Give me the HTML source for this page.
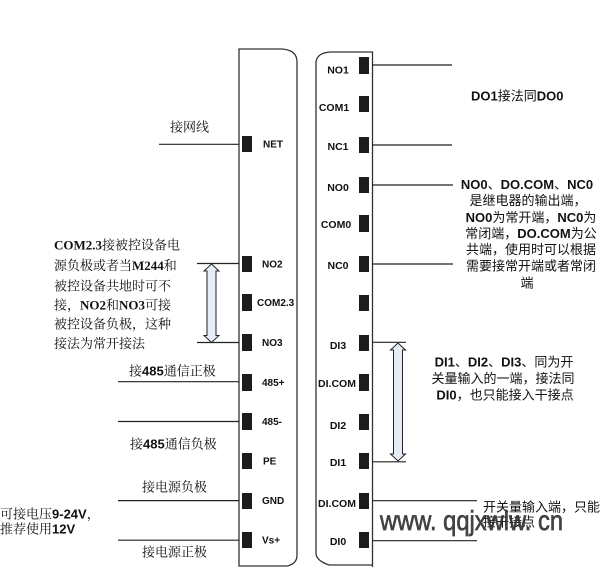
<!DOCTYPE html>
<html>
<head>
<meta charset="utf-8">
<style>
  html,body{margin:0;padding:0;background:#fff;}
  svg{display:block;}
  .pin{fill:#1c1c1c;}
  .ln{stroke:#222;stroke-width:1.2;fill:none;}
  .lbl{font-family:"Liberation Sans",sans-serif;font-weight:bold;font-size:10px;fill:#111;}
  .rl{font-family:"Liberation Sans",sans-serif;font-weight:bold;font-size:10.5px;fill:#111;}
  .cs{font-family:"Liberation Serif","Noto Serif CJK SC",serif;font-size:13px;fill:#111;}
  .cn{font-family:"Liberation Sans","Noto Serif CJK SC",serif;font-size:13px;fill:#111;}
  .cr{font-family:"Liberation Sans","Noto Sans CJK SC",sans-serif;font-size:13px;fill:#111;}
</style>
</head>
<body>
<svg width="605" height="567" viewBox="0 0 605 567" xmlns="http://www.w3.org/2000/svg">
  <!-- panels -->
  <path d="M239 49 H282 Q297 50 297 62 V555 Q297 564 287 566 H239 Z" fill="#fff" stroke="#333" stroke-width="1.3"/>
  <path d="M372.5 567 V52 H330 Q317 53 316 62 V554 Q317 561 329 565 H372.5" fill="#fff" stroke="#333" stroke-width="1.3"/>

  <!-- left pins -->
  <rect class="pin" x="242" y="136" width="10" height="16"/>
  <rect class="pin" x="242" y="256" width="10" height="16"/>
  <rect class="pin" x="242" y="294" width="10" height="17"/>
  <rect class="pin" x="242" y="334" width="10" height="17"/>
  <rect class="pin" x="242" y="374" width="10" height="17"/>
  <rect class="pin" x="242" y="413" width="10" height="17"/>
  <rect class="pin" x="242" y="453" width="10" height="16"/>
  <rect class="pin" x="242" y="493" width="10" height="16"/>
  <rect class="pin" x="242" y="532" width="10" height="16"/>

  <!-- right pins -->
  <rect class="pin" x="359" y="57" width="10" height="17"/>
  <rect class="pin" x="359" y="96" width="10" height="16"/>
  <rect class="pin" x="359" y="137" width="10" height="16"/>
  <rect class="pin" x="359" y="177" width="10" height="16"/>
  <rect class="pin" x="359" y="215" width="10" height="17"/>
  <rect class="pin" x="359" y="256" width="10" height="16"/>
  <rect class="pin" x="359" y="295" width="10" height="16"/>
  <rect class="pin" x="359" y="335" width="10" height="16"/>
  <rect class="pin" x="359" y="374" width="10" height="17"/>
  <rect class="pin" x="359" y="414" width="10" height="16"/>
  <rect class="pin" x="359" y="453" width="10" height="16"/>
  <rect class="pin" x="359" y="493" width="10" height="16"/>
  <rect class="pin" x="359" y="532" width="10" height="16"/>

  <!-- left labels -->
  <text class="lbl" x="263" y="147.5">NET</text>
  <text class="lbl" x="262" y="267.5">NO2</text>
  <text class="lbl" x="257" y="306">COM2.3</text>
  <text class="lbl" x="262" y="346">NO3</text>
  <text class="lbl" x="262" y="386">485+</text>
  <text class="lbl" x="262" y="425">485-</text>
  <text class="lbl" x="263" y="464.5">PE</text>
  <text class="lbl" x="262" y="504">GND</text>
  <text class="lbl" x="262" y="543.5">Vs+</text>

  <!-- right labels -->
  <g text-anchor="middle">
    <text class="rl" x="338" y="73.5">NO1</text>
    <text class="rl" x="334" y="111">COM1</text>
    <text class="rl" x="338" y="150">NC1</text>
    <text class="rl" x="338" y="191">NO0</text>
    <text class="rl" x="336" y="228">COM0</text>
    <text class="rl" x="338" y="269">NC0</text>
    <text class="rl" x="338" y="349">DI3</text>
    <text class="rl" x="337" y="387">DI.COM</text>
    <text class="rl" x="338" y="429">DI2</text>
    <text class="rl" x="338" y="466">DI1</text>
    <text class="rl" x="337" y="507">DI.COM</text>
    <text class="rl" x="338" y="545">DI0</text>
  </g>

  <!-- left lines -->
  <line class="ln" x1="159" y1="144.3" x2="239" y2="144.3"/>
  <line class="ln" x1="197" y1="263.5" x2="239" y2="263.5"/>
  <line class="ln" x1="197" y1="342.5" x2="239" y2="342.5"/>
  <line class="ln" x1="118" y1="381.7" x2="239" y2="381.7"/>
  <line class="ln" x1="118" y1="421.5" x2="239" y2="421.5"/>
  <line class="ln" x1="118" y1="500.6" x2="239" y2="500.6"/>
  <line class="ln" x1="118" y1="540.2" x2="239" y2="540.2"/>

  <!-- right lines -->
  <line class="ln" x1="372" y1="65" x2="452" y2="65"/>
  <line class="ln" x1="372" y1="145" x2="452" y2="145"/>
  <line class="ln" x1="372" y1="185" x2="453" y2="185"/>
  <line class="ln" x1="372" y1="264" x2="453" y2="264"/>
  <line class="ln" x1="372" y1="342.3" x2="406" y2="342.3"/>
  <line class="ln" x1="372" y1="461.8" x2="406" y2="461.8"/>
  <line class="ln" x1="372" y1="500.7" x2="477" y2="500.7"/>
  <line class="ln" x1="372" y1="540.7" x2="477" y2="540.7"/>

  <!-- double arrows -->
  <path d="M211.5 264 L219 271 L216 271 L216 335.5 L219 335.5 L211.5 342.5 L204 335.5 L207 335.5 L207 271 L204 271 Z" fill="#e6edf8" stroke="#222" stroke-width="1"/>
  <path d="M398 343 L405.5 350 L402.5 350 L402.5 454 L405.5 454 L398 461 L390.5 454 L393.5 454 L393.5 350 L390.5 350 Z" fill="#e6edf8" stroke="#222" stroke-width="1"/>

  <!-- left texts -->
  <text class="cs" x="170" y="131.5">接网线</text>
  <text class="cs" x="54" y="249.5"><tspan font-weight="bold">COM2.3</tspan>接被控设备电</text>
  <text class="cs" x="54" y="270">源负极或者当<tspan font-weight="bold">M244</tspan>和</text>
  <text class="cs" x="54" y="290.5">被控设备共地时可不</text>
  <text class="cs" x="54" y="309.5">接，<tspan font-weight="bold">NO2</tspan>和<tspan font-weight="bold">NO3</tspan>可接</text>
  <text class="cs" x="54" y="328.5">被控设备负极，这种</text>
  <text class="cs" x="54" y="348">接法为常开接法</text>

  <text class="cn" x="129" y="375.5">接<tspan font-weight="bold">485</tspan>通信正极</text>
  <text class="cn" x="130" y="448.5">接<tspan font-weight="bold">485</tspan>通信负极</text>
  <text class="cn" x="142" y="491.5">接电源负极</text>
  <text class="cn" x="142" y="556.5">接电源正极</text>
  <text class="cn" x="0" y="518.5">可接电压<tspan font-weight="bold">9-24V</tspan>，</text>
  <text class="cn" x="0" y="533.5">推荐使用<tspan font-weight="bold">12V</tspan></text>

  <!-- right texts -->
  <text class="cr" x="471" y="100.5"><tspan font-weight="bold">DO1</tspan>接法同<tspan font-weight="bold">DO0</tspan></text>
  <g text-anchor="middle">
    <text class="cr" x="527" y="189"><tspan font-weight="bold">NO0</tspan>、<tspan font-weight="bold">DO.COM</tspan>、<tspan font-weight="bold">NC0</tspan></text>
    <text class="cr" x="528" y="205">是继电器的输出端，</text>
    <text class="cr" x="531" y="222"><tspan font-weight="bold">NO0</tspan>为常开端，<tspan font-weight="bold">NC0</tspan>为</text>
    <text class="cr" x="531" y="238">常闭端，<tspan font-weight="bold">DO.COM</tspan>为公</text>
    <text class="cr" x="531" y="254">共端，使用时可以根据</text>
    <text class="cr" x="531" y="270.5">需要接常开端或者常闭</text>
    <text class="cr" x="527" y="287.5">端</text>
  </g>
  <g text-anchor="middle">
    <text class="cr" x="504" y="366.5" font-size="13.5"><tspan font-weight="bold">DI1</tspan>、<tspan font-weight="bold">DI2</tspan>、<tspan font-weight="bold">DI3</tspan>、同为开</text>
    <text class="cr" x="503" y="383" font-size="13.5">关量输入的一端，接法同</text>
    <text class="cr" x="505" y="399.5" font-size="13.5"><tspan font-weight="bold">DI0</tspan>，也只能接入干接点</text>
  </g>
  <text class="cr" x="483" y="511.5" font-size="13.3">开关量输入端，只能</text>
  <text class="cr" x="483" y="526.5" font-size="13">接干接点</text>

  <!-- watermark -->
  <text x="380" y="530" font-family="Liberation Sans, sans-serif" font-size="28" fill="#333" stroke="#333" stroke-width="0.7" opacity="0.92" textLength="183" lengthAdjust="spacingAndGlyphs">www. qqjxwlw. cn</text>
</svg>
</body>
</html>
